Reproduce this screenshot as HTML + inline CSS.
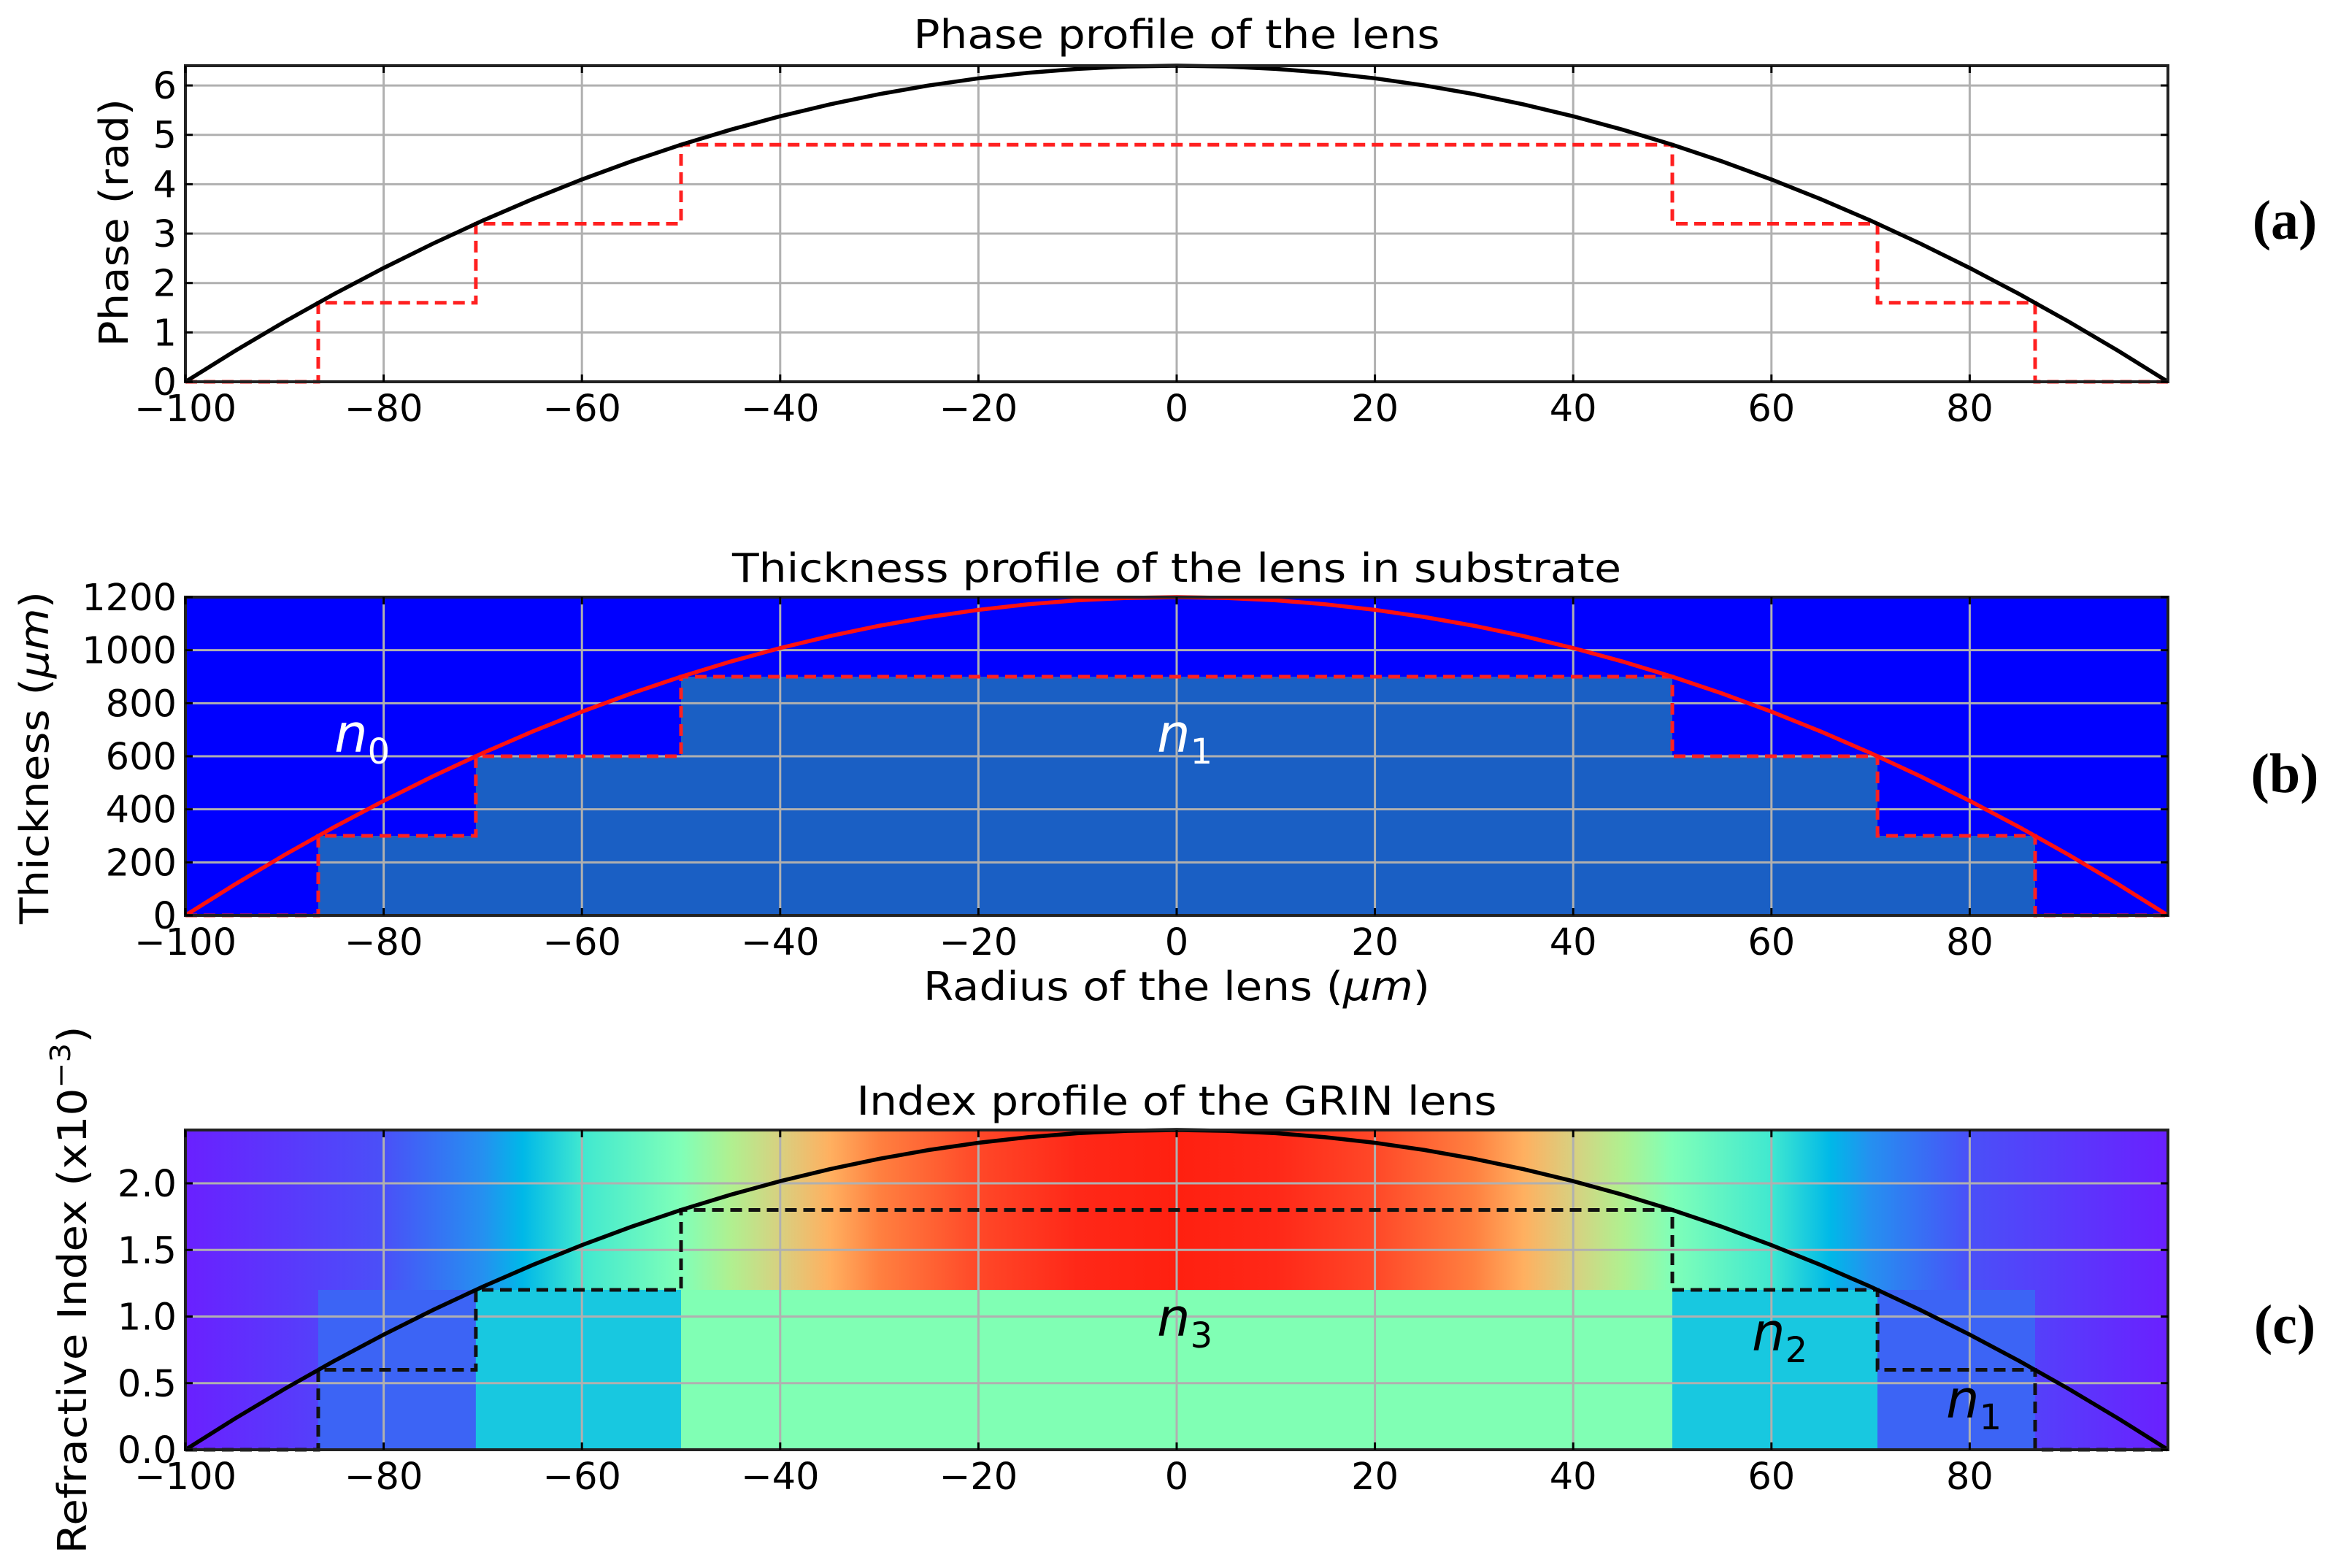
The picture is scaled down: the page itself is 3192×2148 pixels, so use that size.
<!DOCTYPE html>
<html><head><meta charset="utf-8">
<style>
html,body{margin:0;padding:0;background:#fff;}
svg{display:block;}
text{font-family:"DejaVu Sans","Liberation Sans",sans-serif;}
text.lbl{font-family:"Liberation Serif","DejaVu Serif",serif;font-weight:bold;font-size:76px;}
</style></head>
<body>
<svg id="fig" width="3192" height="2148" viewBox="0 0 3192 2148" xmlns="http://www.w3.org/2000/svg">
<defs id="defs"></defs>
</svg>
<script>
// ---- data ----
const radius = [-100,-95,-90,-85,-80,-75,-70,-65,-60,-55,-50,-45,-40,-35,-30,-25,-20,-15,-10,-5,0,5,10,15,20,25,30,35,40,45,50,55,60,65,70,75,80,85,90,95,100];
const phaseVals = [0,0.624,1.216,1.776,2.304,2.8,3.264,3.696,4.096,4.464,4.8,5.104,5.376,5.616,5.824,6.0,6.144,6.256,6.336,6.384,6.4,6.384,6.336,6.256,6.144,6.0,5.824,5.616,5.376,5.104,4.8,4.464,4.096,3.696,3.264,2.8,2.304,1.776,1.216,0.624,0];
const thickVals = [0,117,228,333,432,525,612,693,768,837,900,957,1008,1053,1092,1125,1152,1173,1188,1197,1200,1197,1188,1173,1152,1125,1092,1053,1008,957,900,837,768,693,612,525,432,333,228,117,0];
const indexVals = [0,0.234,0.456,0.666,0.864,1.05,1.224,1.386,1.536,1.674,1.8,1.914,2.016,2.106,2.184,2.25,2.304,2.346,2.376,2.394,2.4,2.394,2.376,2.346,2.304,2.25,2.184,2.106,2.016,1.914,1.8,1.674,1.536,1.386,1.224,1.05,0.864,0.666,0.456,0.234,0];
const stepEdges = [-100,-86.6,-70.7,-50,50,70.7,86.6,100];
const stepPhase = [0,1.6,3.2,4.8,3.2,1.6,0];
const stepThick = [0,300,600,900,600,300,0];
const stepIndex = [0,0.6,1.2,1.8,1.2,0.6,0];
const xTicks = [-100,-80,-60,-40,-20,0,20,40,60,80];
const xTickLabels = ["\u2212100","\u221280","\u221260","\u221240","\u221220","0","20","40","60","80"];
const yTicksA = [0,1,2,3,4,5,6];
const yTicksB = [0,200,400,600,800,1000,1200];
const yTicksC = [0,0.5,1.0,1.5,2.0];
const yTickLabelsC = ["0.0","0.5","1.0","1.5","2.0"];
const bgStopX = [-100,-80,-70,-66,-60,-50,-45,-40,-35,-30,-20,-10,0,10,20,30,35,40,45,50,60,66,70,80,100];
const bgStopColor = ["#6a20ff","#4a50f8","#2590f0","#00b8e8","#40e8d0","#80ffb8","#b0f090","#d8d080","#ffb060","#ff8040","#ff4828","#ff2818","#ff2010","#ff2818","#ff4828","#ff8040","#ffb060","#d8d080","#b0f090","#80ffb8","#40e8d0","#00b8e8","#2590f0","#4a50f8","#6a20ff"];
const stepColorC = ["none","#3c64f5","#18c8e0","#80ffb4","#18c8e0","#3c64f5","none"];

// ---- layout ----
const NS="http://www.w3.org/2000/svg";
const svg=document.getElementById('fig');
const defs=document.getElementById('defs');
const L=254,R=2970;
function xs(v){return L+(v+100)/200*(R-L);}
function mk(tag,attrs,parent){const e=document.createElementNS(NS,tag);for(const k in attrs)e.setAttribute(k,attrs[k]);(parent||svg).appendChild(e);return e;}
function txt(s,x,y,attrs,parent){const t=mk('text',Object.assign({x:x,y:y},attrs||{}),parent);t.textContent=s;return t;}

function panel(cfg){
  const g=mk('g',{});
  
  
  const T=cfg.top,B=cfg.bottom;
  const ys=v=>B-(v/cfg.ymax)*(B-T);
  const cp=mk('clipPath',{id:cfg.name+'-clip'},defs);
  mk('rect',{x:L-3,y:T-3,width:R-L+6,height:B-T+6},cp);
  const inner=mk('g',{'clip-path':'url(#'+cfg.name+'-clip)'},g);
  if(cfg.bgFill){
    const bg=mk('rect',{x:L,y:T,width:R-L,height:B-T,fill:cfg.bgFill},inner);
    
    
  }
  if(cfg.areaFill){
    let d='M'+xs(stepEdges[0])+','+B;
    for(let i=0;i<cfg.steps.length;i++){d+=' L'+xs(stepEdges[i])+','+ys(cfg.steps[i])+' L'+xs(stepEdges[i+1])+','+ys(cfg.steps[i]);}
    d+=' L'+xs(stepEdges[stepEdges.length-1])+','+B+'Z';
    const a=mk('path',{d:d,fill:cfg.areaFill},inner);
    
    
  }
  if(cfg.stepColors){
    const lvl=cfg.steps[2];
    for(let i=0;i<cfg.steps.length;i++){
      if(cfg.stepColors[i]==='none')continue;
      const r=mk('rect',{x:xs(stepEdges[i]),y:ys(lvl),width:xs(stepEdges[i+1])-xs(stepEdges[i]),height:B-ys(lvl),fill:cfg.stepColors[i]},inner);
      
      
    }
  }
  xTicks.forEach(v=>{if(v>-100)mk('line',{x1:xs(v),x2:xs(v),y1:T,y2:B,stroke:'#b0b0b0','stroke-width':3},inner);});
  cfg.yTicks.forEach(v=>{if(v>0)mk('line',{x1:L,x2:R,y1:ys(v),y2:ys(v),stroke:'#b0b0b0','stroke-width':3},inner);});
  let sp='';
  for(let i=0;i<cfg.steps.length;i++){sp+=(i?' L':'M')+xs(stepEdges[i])+','+ys(cfg.steps[i])+' L'+xs(stepEdges[i+1])+','+ys(cfg.steps[i]);}
  const st=mk('path',{d:sp,fill:'none',stroke:cfg.stepColor,'stroke-width':5,'stroke-dasharray':'16,9'},inner);
  
  
  const pts=radius.map((r,i)=>xs(r)+','+ys(cfg.curve[i])).join(' ');
  const cv=mk('polyline',{points:pts,fill:'none',stroke:cfg.curveColor,'stroke-width':5.5},inner);
  
  
  mk('rect',{x:L,y:T,width:R-L,height:B-T,fill:'none',stroke:'#222','stroke-width':4},g);
  xTicks.forEach((v,i)=>{
    mk('line',{x1:xs(v),x2:xs(v),y1:B,y2:B-10,stroke:'#000','stroke-width':3},g);
    mk('line',{x1:xs(v),x2:xs(v),y1:T,y2:T+10,stroke:'#000','stroke-width':3},g);
    const t=txt(xTickLabels[i],xs(v),B+54,{'font-size':51,'text-anchor':'middle',fill:'#000'},g);
    
    
  });
  cfg.yTicks.forEach((v,i)=>{
    mk('line',{x1:L,x2:L+10,y1:ys(v),y2:ys(v),stroke:'#000','stroke-width':3},g);
    mk('line',{x1:R,x2:R-10,y1:ys(v),y2:ys(v),stroke:'#000','stroke-width':3},g);
    const t=txt(cfg.yLabels[i],L-12,ys(v)+18,{'font-size':51,'text-anchor':'end',fill:'#000'},g);
    
    
  });
  const tt=txt(cfg.title,1612,cfg.titleY,{'font-size':54,'text-anchor':'middle',textLength:cfg.titleW,lengthAdjust:'spacingAndGlyphs',fill:'#000'},g);
  
  
  return {g:g,ys:ys};
}

const grad=mk('linearGradient',{id:'rainbowBg',gradientUnits:'userSpaceOnUse',x1:L,x2:R,y1:0,y2:0},defs);
bgStopX.forEach((v,i)=>mk('stop',{offset:((v+100)/200).toFixed(4),'stop-color':bgStopColor[i]},grad));

panel({name:'phase-panel',top:90,bottom:523,ymax:6.4,yTicks:yTicksA,yLabels:yTicksA.map(String),curve:phaseVals,steps:stepPhase,curveColor:'#000',stepColor:'#ff2020',title:'Phase profile of the lens',titleY:66,titleW:721});
panel({name:'thickness-panel',top:818,bottom:1254,ymax:1200,yTicks:yTicksB,yLabels:yTicksB.map(String),curve:thickVals,steps:stepThick,curveColor:'#ff1010',stepColor:'#ff2020',bgFill:'#0000ff',areaFill:'#1a5fc4',title:'Thickness profile of the lens in substrate',titleY:797,titleW:1218});
panel({name:'index-panel',top:1548,bottom:1986,ymax:2.4,yTicks:yTicksC,yLabels:yTickLabelsC,curve:indexVals,steps:stepIndex,curveColor:'#000',stepColor:'#111',bgFill:'url(#rainbowBg)',stepColors:stepColorC,title:'Index profile of the GRIN lens',titleY:1527,titleW:877});
</script>
<svg style="position:absolute;left:0;top:0" width="3192" height="2148">
<g style="fill:#000">
<text transform="translate(175,305) rotate(-90)" text-anchor="middle" font-size="54" textLength="340" lengthAdjust="spacingAndGlyphs">Phase (rad)</text>
<text transform="translate(66,1038) rotate(-90)" text-anchor="middle" font-size="54" textLength="456" lengthAdjust="spacingAndGlyphs">Thickness (<tspan font-style="italic">μm</tspan>)</text>
<text transform="translate(118,1767) rotate(-90)" text-anchor="middle" font-size="54" textLength="723" lengthAdjust="spacingAndGlyphs">Refractive Index (x10<tspan dy="-22" font-size="38">−3</tspan><tspan dy="22">)</tspan></text>
<text x="1612" y="1370" text-anchor="middle" font-size="54" textLength="694" lengthAdjust="spacingAndGlyphs">Radius of the lens (<tspan font-style="italic">μm</tspan>)</text>
<text x="458" y="1030" font-size="72" style="fill:#fff"><tspan font-style="italic">n</tspan><tspan font-size="48" dy="16">0</tspan></text>
<text x="1585" y="1030" font-size="72" style="fill:#fff"><tspan font-style="italic">n</tspan><tspan font-size="48" dy="16">1</tspan></text>
<text x="1585" y="1830" font-size="72"><tspan font-style="italic">n</tspan><tspan font-size="48" dy="16">3</tspan></text>
<text x="2400" y="1850" font-size="72"><tspan font-style="italic">n</tspan><tspan font-size="48" dy="16">2</tspan></text>
<text x="2666" y="1942" font-size="72"><tspan font-style="italic">n</tspan><tspan font-size="48" dy="16">1</tspan></text>
</g>
<g style="fill:#000">
<text class="lbl" x="3130" y="327" text-anchor="middle">(a)</text>
<text class="lbl" x="3130" y="1085" text-anchor="middle">(b)</text>
<text class="lbl" x="3130" y="1840" text-anchor="middle">(c)</text>
</g>
</svg>
</body></html>
